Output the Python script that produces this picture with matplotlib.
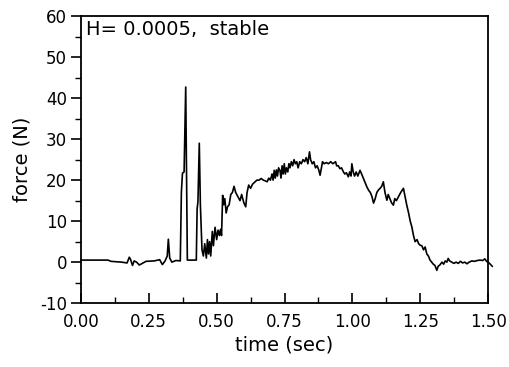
import matplotlib
matplotlib.use("Agg")
import matplotlib.pyplot as plt
from matplotlib.ticker import MultipleLocator, FormatStrFormatter

plt.rcParams["axes.unicode_minus"] = False

# (time [s], force [N]), written as two lists
time_s = [
    0.000, 0.100, 0.110, 0.150, 0.170, 0.178, 0.182, 0.190, 0.196, 0.205,
    0.215, 0.240, 0.270, 0.290, 0.300, 0.310, 0.318, 0.322, 0.327, 0.335,
    0.350, 0.366, 0.370, 0.374, 0.380, 0.386, 0.389, 0.392, 0.400, 0.425,
    0.428, 0.431, 0.436, 0.440, 0.446, 0.451, 0.456, 0.462, 0.466, 0.470,
    0.474, 0.478, 0.484, 0.488, 0.494, 0.500, 0.505, 0.510, 0.514, 0.518,
    0.522, 0.526, 0.530, 0.535, 0.540, 0.546, 0.552, 0.558, 0.564, 0.570,
    0.578, 0.586, 0.592, 0.600, 0.607, 0.612, 0.618, 0.625, 0.632, 0.640,
    0.648, 0.656, 0.664, 0.672, 0.680, 0.686, 0.692, 0.698, 0.704, 0.708,
    0.712, 0.716, 0.720, 0.724, 0.728, 0.733, 0.737, 0.741, 0.745, 0.749,
    0.753, 0.757, 0.762, 0.766, 0.770, 0.775, 0.780, 0.785, 0.790, 0.795,
    0.800, 0.806, 0.812, 0.818, 0.824, 0.830, 0.836, 0.842, 0.846, 0.852,
    0.858, 0.864, 0.870, 0.876, 0.881, 0.886, 0.890, 0.896, 0.904, 0.912,
    0.920, 0.928, 0.934, 0.938, 0.942, 0.948, 0.954, 0.960, 0.967, 0.972,
    0.978, 0.985, 0.990, 0.995, 0.998, 1.003, 1.008, 1.014, 1.020, 1.028,
    1.034, 1.040, 1.046, 1.053, 1.060, 1.066, 1.072, 1.078, 1.084, 1.090,
    1.096, 1.102, 1.108, 1.114, 1.120, 1.127, 1.132, 1.138, 1.144, 1.151,
    1.156, 1.162, 1.170, 1.178, 1.188, 1.194, 1.200, 1.207, 1.213, 1.219,
    1.225, 1.231, 1.238, 1.244, 1.250, 1.256, 1.262, 1.268, 1.274, 1.280,
    1.286, 1.292, 1.298, 1.304, 1.311, 1.316, 1.322, 1.330, 1.336, 1.342,
    1.348, 1.353, 1.358, 1.366, 1.374, 1.382, 1.390, 1.398, 1.406, 1.414,
    1.422, 1.430, 1.440, 1.450, 1.460, 1.470, 1.480, 1.488, 1.494, 1.500,
    1.508, 1.515,
]
force_n = [
    0.5, 0.5, 0.2, 0.0, -0.2, 1.2, 0.8, -0.8, 0.3, 0.0,
    -0.7, 0.2, 0.3, 0.6, -0.6, 0.3, 1.5, 5.6, 1.0, 0.0,
    0.4, 0.3, 17.0, 21.7, 22.0, 42.7, 22.0, 0.5, 0.5, 0.5,
    13.0, 14.7, 29.0, 14.0, 3.0, 1.5, 4.5, 1.0, 5.5, 2.0,
    5.0, 1.5, 7.5, 4.0, 8.5, 5.5, 7.8, 6.5, 8.0, 6.5,
    16.3, 14.0, 15.5, 12.0, 13.5, 14.0, 16.5, 17.0, 18.5, 17.0,
    16.0, 15.0, 16.5, 14.5, 13.5, 17.0, 18.8, 18.0, 19.0, 19.5,
    20.0, 20.0, 20.4, 20.0, 19.8, 19.6, 20.5, 20.0, 21.5, 20.0,
    22.4, 20.5, 22.5, 21.0, 23.0, 22.4, 20.5, 23.5, 21.5, 24.0,
    21.5, 23.0, 22.0, 24.0, 23.0, 24.5, 23.5, 25.0, 24.0, 24.5,
    23.0, 24.5, 24.0, 25.0, 24.5, 25.5, 24.0, 26.9, 25.0, 24.0,
    24.5, 23.0, 23.5, 22.5, 21.2, 23.0, 24.5, 24.0, 24.3, 24.0,
    24.5, 24.0, 24.3, 24.5, 23.5, 23.5, 22.8, 23.0, 22.0, 21.5,
    21.8, 20.8, 22.0, 21.0, 24.0, 22.0, 21.0, 22.0, 21.0, 22.4,
    21.5, 20.5, 19.5, 18.4, 17.5, 17.0, 16.0, 14.4, 15.5, 17.0,
    17.6, 18.0, 18.5, 19.6, 17.0, 15.1, 16.5, 15.5, 14.5, 13.9,
    15.5, 15.0, 16.0, 17.0, 18.0, 16.0, 14.0, 12.0, 10.0, 8.6,
    6.5, 5.0, 5.5, 4.5, 4.1, 4.0, 3.0, 3.7, 2.0, 1.5,
    0.5, 0.0, -0.5, -0.8, -2.0, -1.0, -0.7, 0.0, -0.5, 0.3,
    0.0, 0.9, 0.3, 0.0, -0.3, 0.0, -0.3, 0.2, -0.2, 0.0,
    -0.4, 0.0, 0.3, 0.2, 0.4, 0.5, 0.4, 0.8, 0.2, 0.0,
    -0.5, -1.0,
]

x_ticks = [0.00, 0.25, 0.50, 0.75, 1.00, 1.25, 1.50]
y_ticks = [-10, 0, 10, 20, 30, 40, 50, 60]

fig = plt.figure(figsize=(5.09, 3.67), dpi=100)
ax = fig.add_axes([0.159, 0.174, 0.800, 0.782])
ax.plot(time_s, force_n, color="black", linewidth=1.2, clip_on=False)
ax.set_xlim(x_ticks[0], x_ticks[-1])
ax.set_ylim(y_ticks[0], y_ticks[-1])
ax.set_xticks(x_ticks)
ax.set_yticks(y_ticks)
ax.xaxis.set_minor_locator(MultipleLocator(0.125))
ax.yaxis.set_minor_locator(MultipleLocator(5))
ax.xaxis.set_major_formatter(FormatStrFormatter("%.2f"))
ax.tick_params(axis="x", which="major", direction="in", length=7, width=1.2, labelsize=12, pad=7)
ax.tick_params(axis="x", which="minor", direction="in", length=4, width=1.0)
ax.tick_params(axis="y", which="major", direction="out", length=7, width=1.2, labelsize=12, pad=3)
ax.tick_params(axis="y", which="minor", direction="out", length=4, width=1.0)
for s in ax.spines.values():
    s.set_linewidth(1.3)
ax.set_xlabel("time (sec)", fontsize=14, labelpad=3)
ax.set_ylabel("force (N)", fontsize=14, labelpad=6)
ax.text(0.012, 0.985, "H= 0.0005,  stable", transform=ax.transAxes, fontsize=14,
        va="top", ha="left")
fig.savefig("out.png", dpi=100)
